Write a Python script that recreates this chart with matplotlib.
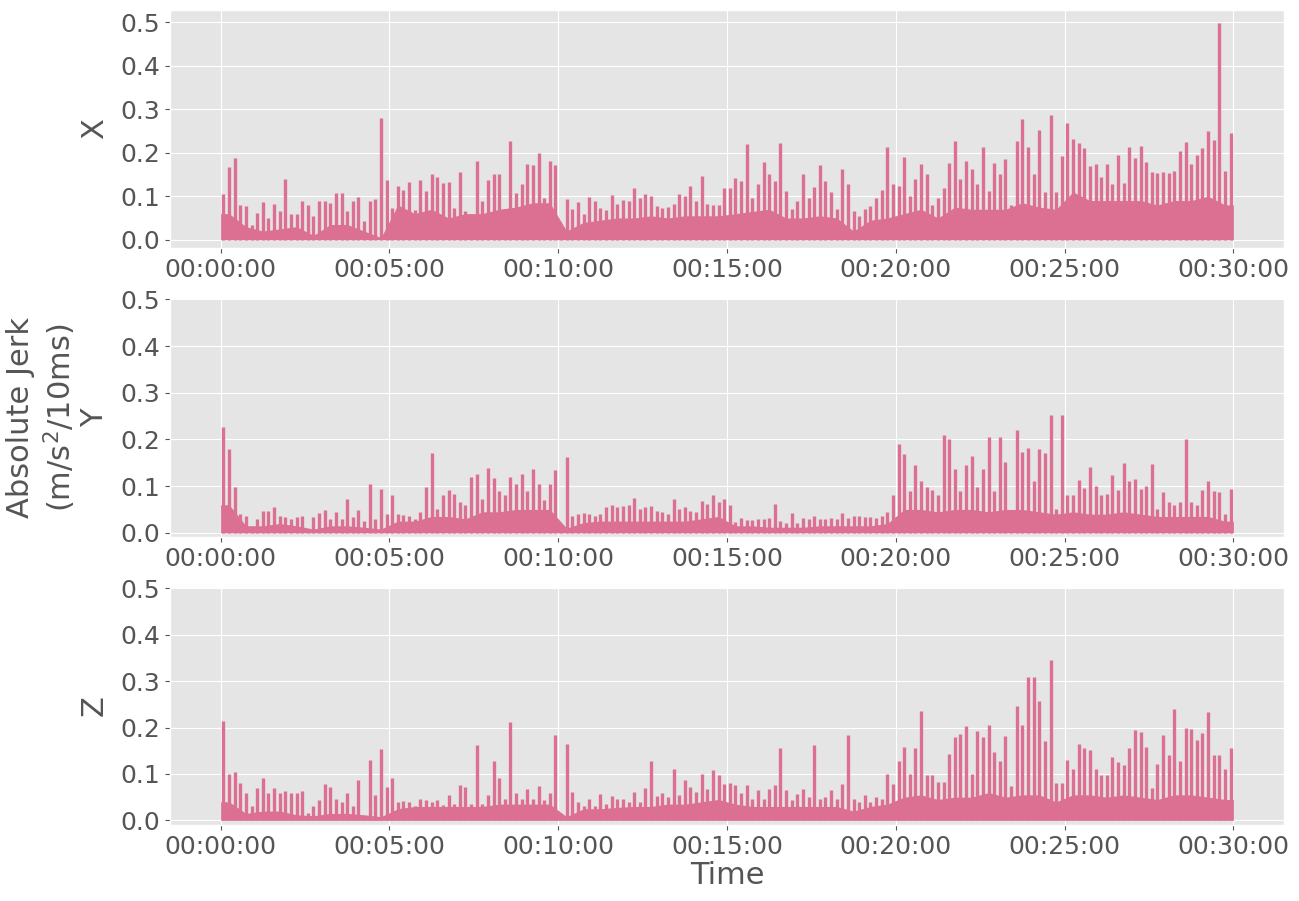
import numpy as np
import matplotlib
matplotlib.use("Agg")
import matplotlib.pyplot as plt
import matplotlib.dates as mdates

# ---------------- data ----------------
# peak absolute jerk in each 10-second bin (6 values per minute, 30 minutes)
x_peak = [
    0.105, 0.168, 0.188, 0.080, 0.077, 0.035,
    0.062, 0.087, 0.050, 0.083, 0.066, 0.140,
    0.060, 0.060, 0.090, 0.080, 0.055, 0.088,
    0.088, 0.085, 0.107, 0.108, 0.066, 0.088,
    0.098, 0.042, 0.088, 0.093, 0.280, 0.138,
    0.073, 0.124, 0.115, 0.132, 0.068, 0.137,
    0.112, 0.150, 0.144, 0.130, 0.132, 0.072,
    0.156, 0.065, 0.060, 0.182, 0.090, 0.137,
    0.150, 0.150, 0.070, 0.228, 0.108, 0.128,
    0.175, 0.171, 0.200, 0.095, 0.181, 0.172,
    0.010, 0.094, 0.070, 0.087, 0.060, 0.099,
    0.090, 0.074, 0.068, 0.103, 0.082, 0.091,
    0.090, 0.118, 0.095, 0.105, 0.100, 0.078,
    0.072, 0.075, 0.082, 0.105, 0.100, 0.124,
    0.090, 0.147, 0.082, 0.080, 0.080, 0.120,
    0.120, 0.141, 0.135, 0.220, 0.097, 0.128,
    0.179, 0.150, 0.135, 0.223, 0.112, 0.070,
    0.090, 0.150, 0.095, 0.122, 0.172, 0.135,
    0.110, 0.070, 0.162, 0.128, 0.065, 0.055,
    0.070, 0.078, 0.097, 0.114, 0.213, 0.128,
    0.124, 0.190, 0.100, 0.139, 0.173, 0.152,
    0.080, 0.095, 0.118, 0.177, 0.226, 0.139,
    0.181, 0.162, 0.128, 0.213, 0.113, 0.177,
    0.150, 0.186, 0.080, 0.228, 0.278, 0.213,
    0.150, 0.253, 0.109, 0.287, 0.110, 0.192,
    0.268, 0.232, 0.223, 0.211, 0.170, 0.175,
    0.144, 0.173, 0.128, 0.195, 0.131, 0.213,
    0.188, 0.216, 0.179, 0.155, 0.154, 0.155,
    0.154, 0.157, 0.205, 0.224, 0.173, 0.195,
    0.211, 0.249, 0.230, 0.498, 0.158, 0.245,
]
y_peak = [
    0.227, 0.179, 0.098, 0.041, 0.037, 0.015,
    0.030, 0.046, 0.046, 0.055, 0.036, 0.034,
    0.029, 0.034, 0.035, 0.009, 0.034, 0.042,
    0.048, 0.030, 0.044, 0.030, 0.072, 0.033,
    0.048, 0.025, 0.104, 0.030, 0.093, 0.040,
    0.080, 0.040, 0.039, 0.035, 0.030, 0.044,
    0.098, 0.170, 0.050, 0.080, 0.091, 0.084,
    0.066, 0.060, 0.120, 0.127, 0.073, 0.139,
    0.118, 0.090, 0.080, 0.120, 0.105, 0.127,
    0.090, 0.136, 0.105, 0.070, 0.105, 0.134,
    0.010, 0.162, 0.036, 0.040, 0.043, 0.040,
    0.037, 0.041, 0.055, 0.059, 0.055, 0.058,
    0.059, 0.075, 0.050, 0.055, 0.057, 0.047,
    0.045, 0.040, 0.072, 0.052, 0.055, 0.047,
    0.045, 0.069, 0.062, 0.082, 0.066, 0.073,
    0.059, 0.023, 0.032, 0.028, 0.028, 0.030,
    0.030, 0.032, 0.062, 0.025, 0.022, 0.042,
    0.020, 0.032, 0.030, 0.037, 0.030, 0.030,
    0.032, 0.030, 0.043, 0.032, 0.037, 0.035,
    0.034, 0.034, 0.032, 0.036, 0.044, 0.082,
    0.191, 0.168, 0.090, 0.145, 0.112, 0.098,
    0.091, 0.080, 0.209, 0.202, 0.137, 0.090,
    0.146, 0.164, 0.098, 0.136, 0.205, 0.090,
    0.205, 0.152, 0.045, 0.221, 0.173, 0.182,
    0.110, 0.180, 0.172, 0.252, 0.050, 0.252,
    0.080, 0.080, 0.114, 0.097, 0.142, 0.100,
    0.080, 0.084, 0.124, 0.091, 0.150, 0.112,
    0.116, 0.094, 0.100, 0.148, 0.050, 0.087,
    0.066, 0.060, 0.065, 0.200, 0.066, 0.060,
    0.092, 0.112, 0.090, 0.087, 0.040, 0.094,
]
z_peak = [
    0.214, 0.100, 0.104, 0.081, 0.058, 0.030,
    0.070, 0.091, 0.058, 0.070, 0.060, 0.063,
    0.060, 0.060, 0.063, 0.015, 0.032, 0.043,
    0.079, 0.072, 0.047, 0.040, 0.058, 0.032,
    0.088, 0.010, 0.130, 0.054, 0.153, 0.072,
    0.091, 0.040, 0.041, 0.040, 0.032, 0.047,
    0.043, 0.040, 0.043, 0.033, 0.054, 0.036,
    0.077, 0.071, 0.036, 0.162, 0.036, 0.054,
    0.127, 0.091, 0.047, 0.212, 0.058, 0.046,
    0.067, 0.047, 0.073, 0.043, 0.060, 0.185,
    0.010, 0.165, 0.061, 0.040, 0.030, 0.047,
    0.032, 0.056, 0.035, 0.053, 0.047, 0.047,
    0.040, 0.061, 0.040, 0.070, 0.127, 0.053,
    0.058, 0.050, 0.110, 0.054, 0.086, 0.072,
    0.061, 0.099, 0.068, 0.108, 0.097, 0.079,
    0.080, 0.076, 0.058, 0.076, 0.047, 0.066,
    0.047, 0.068, 0.076, 0.156, 0.065, 0.043,
    0.057, 0.068, 0.050, 0.162, 0.047, 0.050,
    0.065, 0.047, 0.079, 0.183, 0.047, 0.040,
    0.054, 0.040, 0.050, 0.047, 0.100, 0.078,
    0.128, 0.158, 0.100, 0.155, 0.235, 0.097,
    0.097, 0.083, 0.083, 0.144, 0.180, 0.187,
    0.203, 0.099, 0.192, 0.180, 0.205, 0.148,
    0.128, 0.181, 0.075, 0.246, 0.205, 0.309,
    0.309, 0.257, 0.170, 0.345, 0.080, 0.080,
    0.130, 0.110, 0.165, 0.156, 0.151, 0.110,
    0.097, 0.097, 0.137, 0.126, 0.120, 0.156,
    0.194, 0.190, 0.158, 0.070, 0.122, 0.183,
    0.140, 0.241, 0.129, 0.199, 0.196, 0.173,
    0.189, 0.234, 0.140, 0.140, 0.110, 0.155,
]

# typical (dense) level in each 30-second bin
x_base = [
    0.060, 0.030, 0.020, 0.025, 0.030, 0.010, 0.035, 0.035, 0.020, 0.005,
    0.080, 0.060, 0.070, 0.050, 0.060, 0.060, 0.070, 0.075, 0.085, 0.085,
    0.020, 0.040, 0.045, 0.050, 0.050, 0.055, 0.050, 0.055, 0.055, 0.055,
    0.060, 0.065, 0.070, 0.050, 0.050, 0.055, 0.050, 0.020, 0.045, 0.050,
    0.060, 0.070, 0.050, 0.075, 0.070, 0.070, 0.070, 0.085, 0.075, 0.070,
    0.110, 0.090, 0.090, 0.090, 0.090, 0.080, 0.090, 0.090, 0.100, 0.080,
]
y_base = [
    0.060, 0.015, 0.015, 0.020, 0.015, 0.008, 0.015, 0.015, 0.012, 0.008,
    0.025, 0.025, 0.035, 0.035, 0.030, 0.045, 0.045, 0.050, 0.050, 0.050,
    0.010, 0.022, 0.025, 0.025, 0.025, 0.025, 0.025, 0.025, 0.030, 0.035,
    0.015, 0.015, 0.012, 0.012, 0.012, 0.015, 0.015, 0.015, 0.015, 0.020,
    0.050, 0.050, 0.045, 0.050, 0.050, 0.045, 0.050, 0.050, 0.045, 0.040,
    0.045, 0.040, 0.040, 0.045, 0.040, 0.035, 0.035, 0.035, 0.035, 0.025,
]
z_base = [
    0.040, 0.015, 0.020, 0.020, 0.012, 0.010, 0.015, 0.015, 0.012, 0.008,
    0.025, 0.030, 0.030, 0.030, 0.030, 0.030, 0.035, 0.035, 0.035, 0.035,
    0.008, 0.025, 0.025, 0.028, 0.030, 0.030, 0.035, 0.035, 0.040, 0.045,
    0.035, 0.030, 0.030, 0.030, 0.030, 0.030, 0.030, 0.020, 0.030, 0.035,
    0.050, 0.055, 0.045, 0.050, 0.050, 0.060, 0.050, 0.055, 0.055, 0.040,
    0.055, 0.055, 0.050, 0.055, 0.050, 0.045, 0.055, 0.055, 0.050, 0.045,
]

axis_names = ["X", "Y", "Z"]
peaks = [x_peak, y_peak, z_peak]
bases = [x_base, y_base, z_base]
PEAK_BIN_S = 10
BASE_BIN_S = 30
DURATION_S = 1800

# ---------------- plotting ----------------
plt.style.use("ggplot")
plt.rcParams["font.family"] = ["DejaVu Sans"]
color = "#DB7093"
t0 = np.datetime64("2000-01-01T00:00:00")

fig = plt.figure(figsize=(12.99, 9.01), dpi=100)
W, H = 1299, 901
boxes = [(10, 248), (298, 537), (587, 825)]
ylims = [(-0.019, 0.528), (-0.009, 0.503), (-0.010, 0.503)]

axes = []
for i, (top, bot) in enumerate(boxes):
    ax = fig.add_axes([170 / W, 1 - bot / H, (1284 - 170) / W, (bot - top) / H])
    axes.append(ax)
    pk = np.asarray(peaks[i])
    bs = np.asarray(bases[i])
    pt = t0 + (np.arange(len(pk)) * PEAK_BIN_S + PEAK_BIN_S // 2).astype("timedelta64[s]")
    bt = t0 + (np.arange(len(bs)) * BASE_BIN_S + BASE_BIN_S // 2).astype("timedelta64[s]")
    # dense body of the signal
    bt_full = np.concatenate(([t0], bt, [t0 + np.timedelta64(DURATION_S, "s")]))
    bs_full = np.concatenate(([bs[0]], bs, [bs[-1]]))
    ax.fill_between(bt_full, bs_full, 0, color=color, linewidth=0)
    # spikes
    ax.vlines(pt, 0, pk, color=color, linewidth=2.4)
    ax.set_xlim(t0 - np.timedelta64(90, "s"), t0 + np.timedelta64(DURATION_S + 90, "s"))
    ax.set_ylim(*ylims[i])
    ax.set_yticks([0.0, 0.1, 0.2, 0.3, 0.4, 0.5])
    ax.xaxis.set_major_locator(mdates.MinuteLocator(byminute=range(0, 60, 5)))
    ax.xaxis.set_major_formatter(mdates.DateFormatter("%H:%M:%S"))
    ax.tick_params(axis="both", labelsize=18, colors="#555555")
    ax.set_ylabel(axis_names[i], fontsize=22, color="#555555")
    ax.yaxis.set_label_coords(-0.055, 0.5)

axes[-1].set_xlabel("Time", fontsize=22, color="#555555", labelpad=2)
fig.text(42 / W, 1 - 418 / H, "Absolute Jerk\n(m/s$^2$/10ms)", rotation=90,
         ha="center", va="center", fontsize=22, color="#555555", linespacing=1.25)

fig.savefig("out.png", dpi=100)
